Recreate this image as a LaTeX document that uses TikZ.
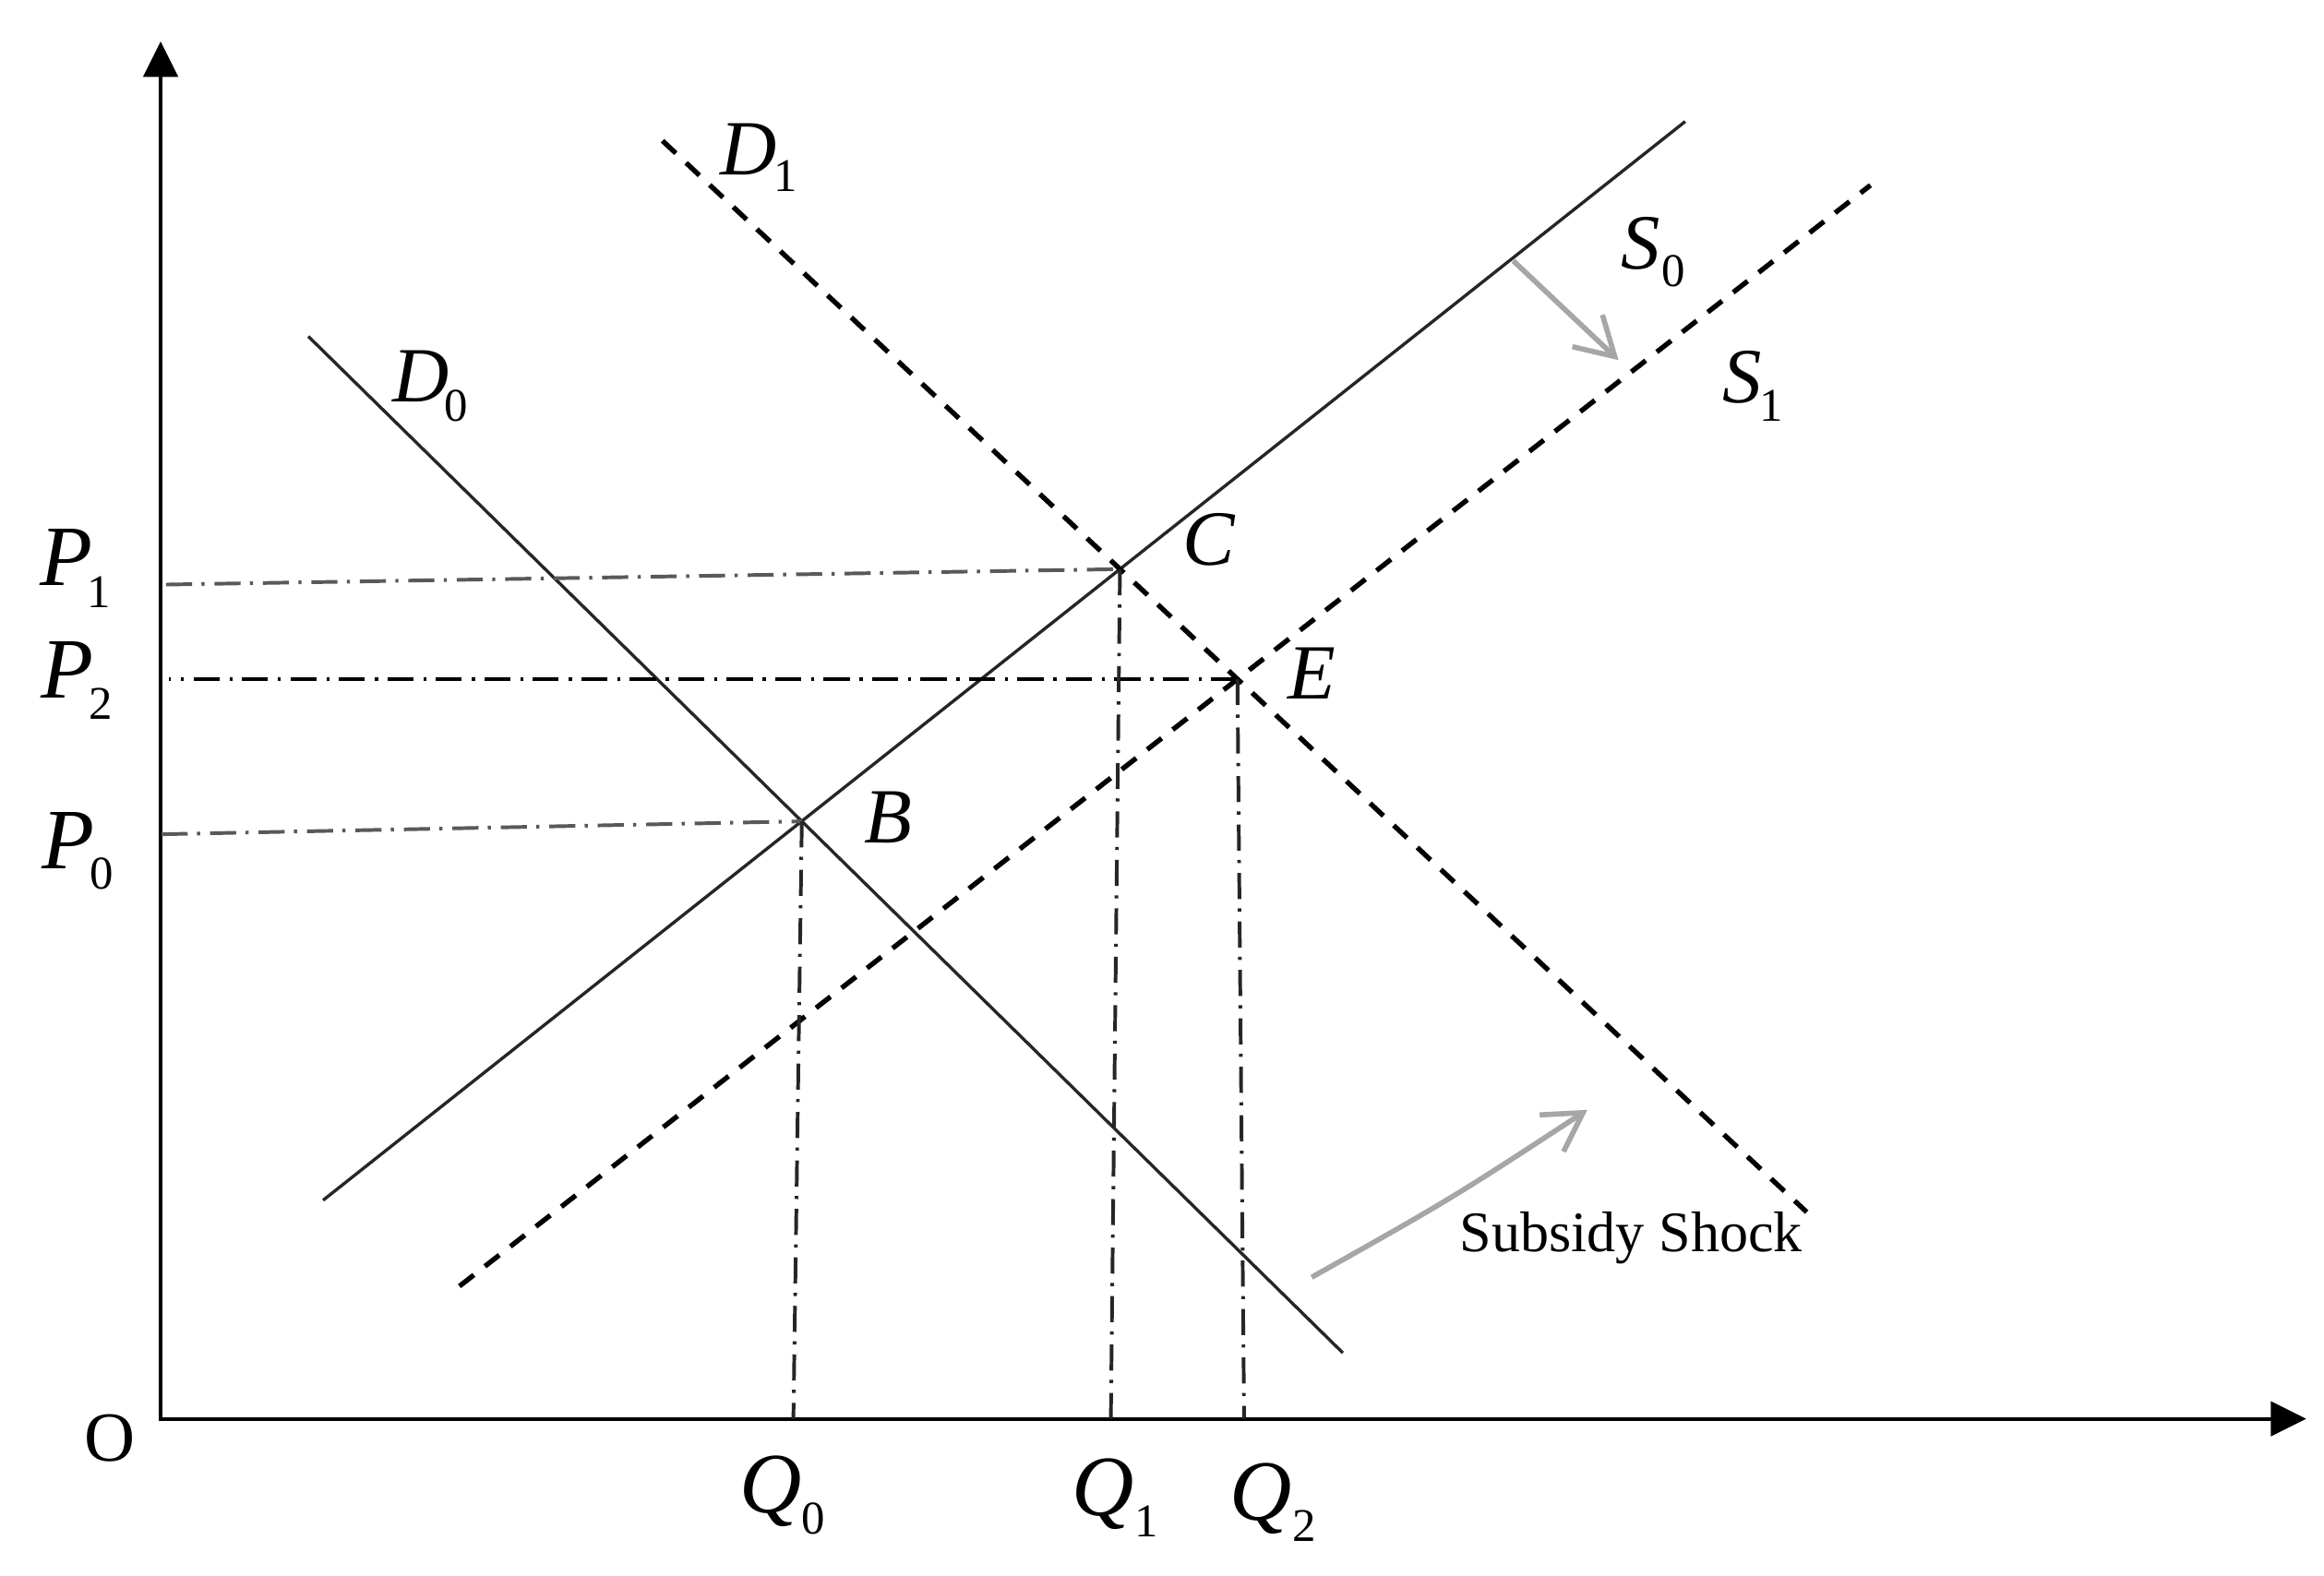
\documentclass[tikz,border=0pt]{standalone}
\usepackage{fontspec}
\setmainfont{Liberation Serif}
\usetikzlibrary{arrows.meta}
\definecolor{arrgray}{RGB}{166,166,166}
\newcommand{\lbl}[6]{\rlap{\fontsize{#1}{#1}\selectfont\itshape #2}\hspace*{#5}\raisebox{-#6}{\fontsize{#3}{#3}\selectfont #4}}
\begin{document}
\begin{tikzpicture}[x=0.01cm,y=-0.01cm,
  axis/.style={line width=0.7pt, black, line join=miter},
  solidcurve/.style={line width=0.6pt, black!85},
  dashcurve/.style={line width=0.95pt, black, dash pattern=on 3.5pt off 2.7pt},
  guide/.style={line width=0.7pt, black!85, dash pattern=on 5pt off 1.8pt on 0.6pt off 1.9pt},
  guidegray/.style={guide, black!65},
  shiftarrow/.style={arrgray, line width=1pt, -{Straight Barb[length=7.2pt,width=8.4pt]}},
  lab/.style={anchor=base west, inner sep=0pt, outer sep=0pt}]
\useasboundingbox (0,0) rectangle (1568,1063);

% axes
\coordinate (O) at (108.4,957.5);
\coordinate (ytip) at (108.4,28);
\coordinate (xtip) at (1556,957.5);
\draw[axis, {Triangle[length=6.8pt,width=6.6pt]}-{Triangle[length=6.8pt,width=6.6pt]}] (ytip) -- (O) -- (xtip);

% curve end points
\coordinate (d0a) at (208,227);
\coordinate (d0b) at (906,913);
\coordinate (s0a) at (218,810);
\coordinate (s0b) at (1137,82);
\coordinate (d1a) at (447,95);
\coordinate (d1b) at (1219,818);
\coordinate (s1a) at (310,868);
\coordinate (s1b) at (1262,125);

% equilibria
\coordinate (B) at (intersection of d0a--d0b and s0a--s0b);
\coordinate (C) at (intersection of d1a--d1b and s0a--s0b);
\coordinate (E) at (intersection of d1a--d1b and s1a--s1b);

% curves
\draw[solidcurve] (d0a) -- (d0b);
\draw[solidcurve] (s0a) -- (s0b);
\draw[dashcurve] (d1a) -- (d1b);
\draw[dashcurve] (s1a) -- (s1b);

% guide lines
\coordinate (p1) at (112,394.5);
\coordinate (p2x) at (114,0);
\coordinate (p0) at (109,563);
\coordinate (q0) at (535.3,957.5);
\coordinate (q1) at (749.5,957.5);
\coordinate (q2) at (839.4,957.5);
\draw[guidegray] (p1) -- (C);
\draw[guide, black] (E) -- (E -| p2x);
\draw[guidegray] (p0) -- (B);
\draw[guide] (B) -- (q0);
\draw[guide] (C) -- (q1);
\draw[guide] (E) -- (q2);

% shift arrows
\coordinate (a1s) at (1021,176);
\coordinate (a1e) at (1092,243);
\draw[shiftarrow] (a1s) -- (a1e);
\coordinate (a2s) at (885,862);
\coordinate (a2e) at (1071,749);
\draw[shiftarrow] (a2s) .. controls (980,808.5) .. (a2e);

% labels
\node[lab] (P1) at (27,395.4) {\lbl{16.5pt}{P}{9pt}{1}{3.2mm}{1.45mm}};
\node[lab] (P2) at (28,471) {\lbl{16.5pt}{P}{9pt}{2}{3.2mm}{1.45mm}};
\node[lab] (P0) at (28.6,586.4) {\lbl{16.5pt}{P}{9pt}{0}{3.2mm}{1.35mm}};
\node[lab] (Q0) at (499,1021) {\lbl{16.5pt}{Q}{9pt}{0}{4.2mm}{1.4mm}};
\node[lab] (Q1) at (723.4,1023) {\lbl{16.5pt}{Q}{9pt}{1}{4.2mm}{1.4mm}};
\node[lab] (Q2) at (830,1026) {\lbl{16.5pt}{Q}{9pt}{2}{4.2mm}{1.4mm}};
\node[lab] (D1) at (486,118) {\lbl{15pt}{D}{9pt}{1}{3.6mm}{1.1mm}};
\node[lab] (D0) at (265,271) {\lbl{15pt}{D}{9pt}{0}{3.5mm}{1.3mm}};
\node[lab] (S0) at (1094,181.6) {\lbl{15pt}{S}{9pt}{0}{2.7mm}{1.2mm}};
\node[lab] (S1) at (1162.5,272) {\lbl{15pt}{S}{9pt}{1}{2.5mm}{1.2mm}};
\node[lab, font=\fontsize{15pt}{15pt}\selectfont\itshape] (Clab) at (798,381.7) {C};
\node[lab, font=\fontsize{15pt}{15pt}\selectfont\itshape] (Elab) at (869,472) {E};
\node[lab, font=\fontsize{15pt}{15pt}\selectfont\itshape] (Blab) at (583,569) {B};
\node[lab, font=\fontsize{13.5pt}{13.5pt}\selectfont] (Olab) at (57,986) {O};
\node[lab, font=\fontsize{11pt}{11pt}\selectfont] (shock) at (985,845) {Subsidy Shock};
\end{tikzpicture}
\end{document}
